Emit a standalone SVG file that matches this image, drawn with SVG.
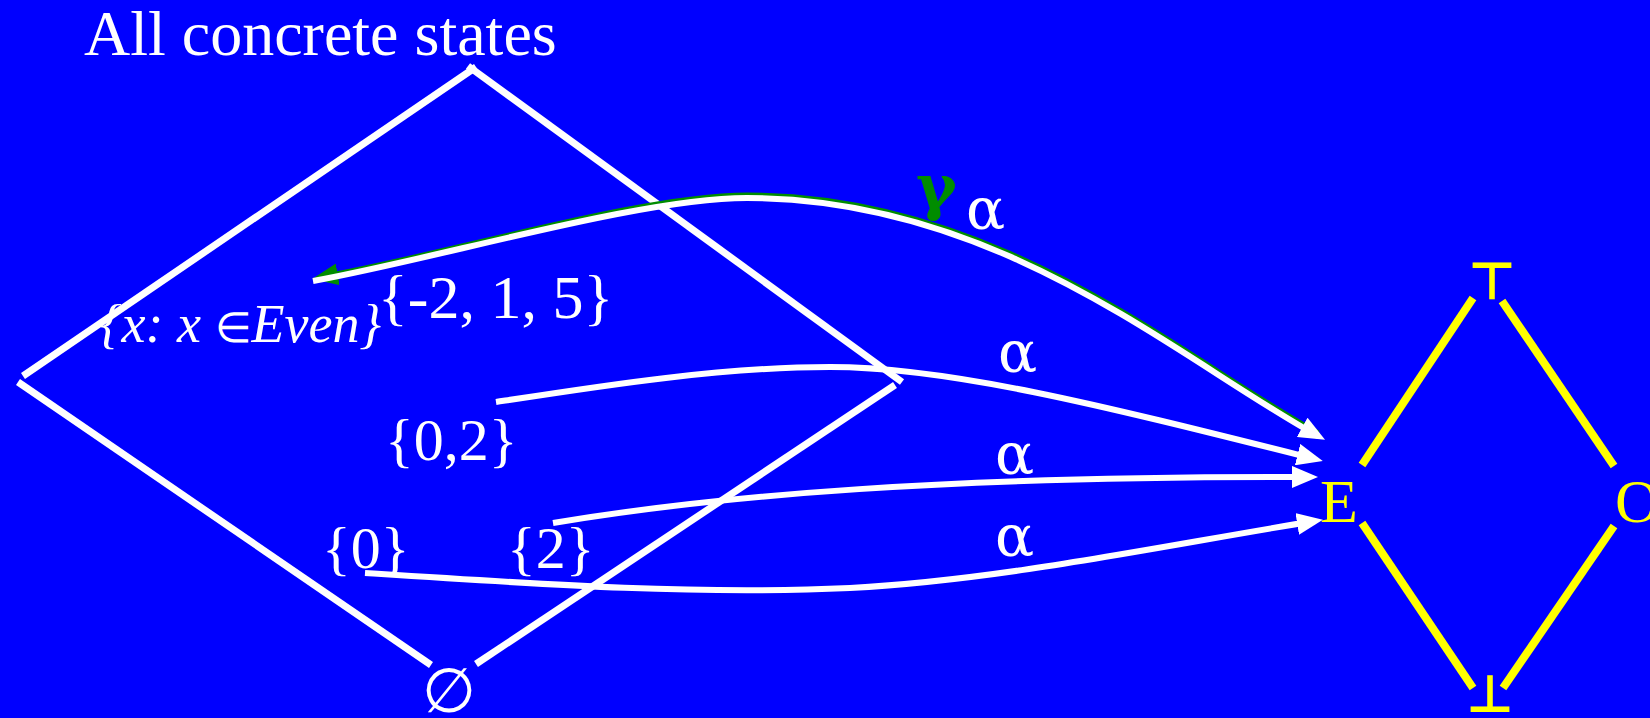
<svg xmlns="http://www.w3.org/2000/svg" width="1650" height="718" viewBox="0 0 1650 718">
  <style>
    .lbl { font-family: "Liberation Serif", "Times New Roman", serif; fill: #ffffff; }
    .ylbl { font-family: "Liberation Serif", "DejaVu Serif", serif; fill: #ffff00; }
    .sym { font-family: "DejaVu Sans", "Liberation Serif", sans-serif; fill: #ffff00; font-weight: bold; }
    .greek { font-family: "DejaVu Serif", "Liberation Serif", serif; fill: #ffffff; }
    .edge { stroke: #ffffff; stroke-width: 7; fill: none; }
    .lat { stroke: #ffff00; stroke-width: 8; fill: none; }
    .arr { stroke: #ffffff; stroke-width: 6; fill: none; marker-end: url(#ah); }
    .garr { stroke: #008c00; stroke-width: 6; fill: none; marker-start: url(#gh); }
  </style>
  <defs>
    <marker id="ah" markerUnits="userSpaceOnUse" viewBox="0 0 26 22" markerWidth="26" markerHeight="22" refX="18" refY="11" orient="auto">
      <path d="M0,0 L26,11 L0,22 z" fill="#ffffff"/>
    </marker>
    <marker id="gh" markerUnits="userSpaceOnUse" viewBox="0 0 26 22" markerWidth="26" markerHeight="22" refX="18" refY="11" orient="auto-start-reverse">
      <path d="M0,0 L26,11 L0,22 z" fill="#008c00"/>
    </marker>
  </defs>
  <rect x="0" y="0" width="1650" height="718" fill="#0000ff"/>

  <g id="concrete-lattice">
    <line class="edge" x1="23" y1="376" x2="476" y2="67"/>
    <line class="edge" x1="468" y1="66" x2="902" y2="382"/>
    <line class="edge" x1="18" y1="382" x2="431" y2="665"/>
    <line class="edge" x1="476" y1="664" x2="895" y2="385"/>
  </g>

  <g id="node-all">
    <text class="lbl" x="84" y="55" font-size="64">All concrete states</text>
  </g>
  <g id="node-even">
    <text class="lbl" x="100" y="342" font-size="54" font-style="italic">{x: x <tspan font-style="normal" font-size="42">∈</tspan>Even}</text>
  </g>
  <g id="node-m215">
    <text class="lbl" x="378" y="318" font-size="62">{-2, 1, 5}</text>
  </g>
  <g id="node-02">
    <text class="lbl" x="385" y="460" font-size="60">{0,2}</text>
  </g>
  <g id="node-0">
    <text class="lbl" x="322" y="568" font-size="60">{0}</text>
  </g>
  <g id="node-2">
    <text class="lbl" x="507" y="568" font-size="60">{2}</text>
  </g>
  <g id="node-empty">
    <text class="lbl" x="449" y="712" font-size="62" text-anchor="middle" font-family="DejaVu Sans, sans-serif">∅</text>
  </g>

  <g id="abstract-lattice">
    <line class="lat" x1="1362" y1="465" x2="1473" y2="298"/>
    <line class="lat" x1="1502" y1="301" x2="1614" y2="466"/>
    <line class="lat" x1="1362" y1="523" x2="1473" y2="688"/>
    <line class="lat" x1="1614" y1="526" x2="1503" y2="688"/>
  </g>
  <g id="node-top">
    <text class="sym" x="1492" y="299" font-size="52" text-anchor="middle">⊤</text>
  </g>
  <g id="node-E">
    <text class="ylbl" x="1320" y="522" font-size="62">E</text>
  </g>
  <g id="node-O">
    <text class="ylbl" x="1615" y="522" font-size="62">O</text>
  </g>
  <g id="node-bottom">
    <text class="sym" x="1490" y="712" font-size="52" text-anchor="middle">⊥</text>
  </g>

  <g id="connectors">
    <path class="garr" d="M320,277.5 C445,255.5 640,195.5 747,195.5 C1000,195.5 1178,356.5 1318,433.5"/>
    <path class="arr" d="M313,281 C440,258 640,198 747,198 C1000,198 1178,359 1318,436"/>
    <path class="arr" d="M496,402 C600,386 720,367 830,367 C950,367 1100,405 1315,459"/>
    <path class="arr" d="M553,523 C720,495 950,476 1310,477"/>
    <path class="arr" d="M365,573 C550,585 700,595 850,588 C1000,580 1150,548 1315,521"/>
  </g>

  <g id="labels">
    <text x="916" y="208" font-size="62" fill="#008c00" font-weight="bold" font-family="DejaVu Serif, serif">γ</text>
    <text class="greek" x="966" y="229" font-size="58">α</text>
    <text class="greek" x="998" y="372" font-size="58">α</text>
    <text class="greek" x="995" y="474" font-size="58">α</text>
    <text class="greek" x="995" y="556" font-size="58">α</text>
  </g>
</svg>
